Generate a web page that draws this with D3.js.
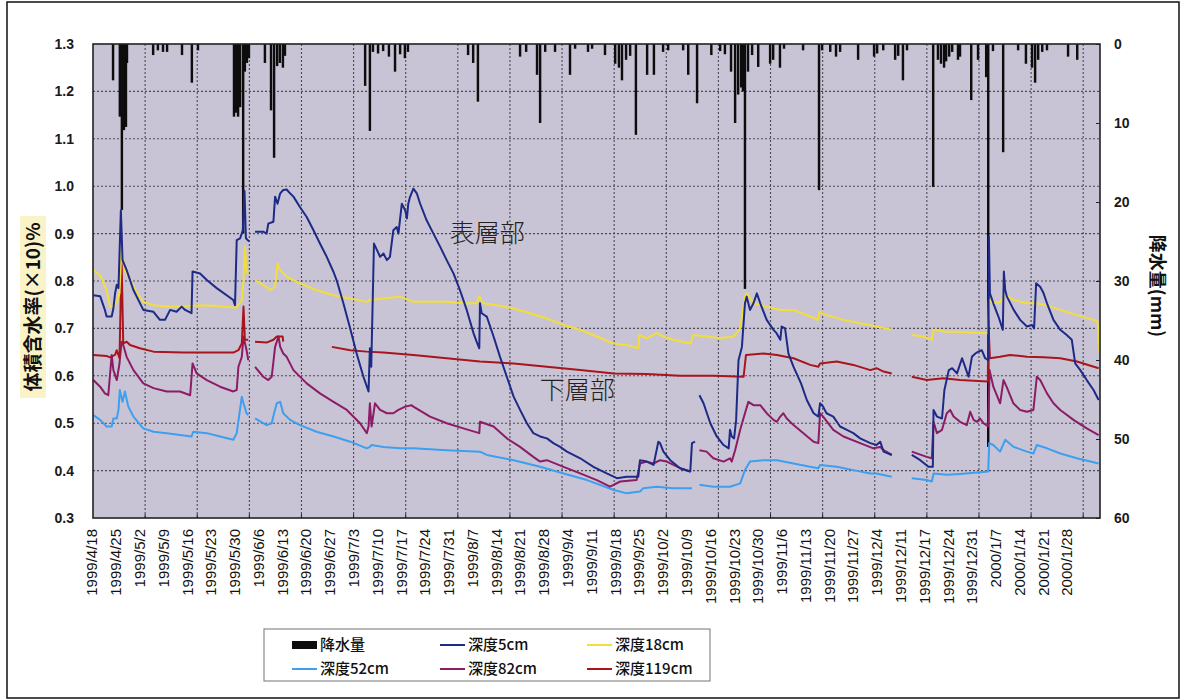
<!DOCTYPE html>
<html lang="ja">
<head>
<meta charset="utf-8">
<title>体積含水率と降水量</title>
<script src="https://cdn.jsdelivr.net/npm/d3@7"></script>
<style>
  html, body { margin: 0; padding: 0; background: #fff; }
  svg { display: block; }
  .tick-num { font-family: "Liberation Sans", Arial, sans-serif; font-weight: bold; font-size: 14px; fill: #1a1a1a; }
  .date-lbl { font-family: "Liberation Sans", Arial, sans-serif; font-size: 15px; fill: #111; }
  .cjk { font-family: "Noto Sans CJK JP", "Noto Sans", sans-serif; }
</style>
</head>
<body>
<svg id="chart" width="1183" height="700"></svg>
<script>
// ---- data -------------------------------------------------------------
// x values are days counted from 1999/4/18 (one label every 7 positions)
const dateLabels = [
  "1999/4/18","1999/4/25","1999/5/2","1999/5/9","1999/5/16","1999/5/23","1999/5/30",
  "1999/6/6","1999/6/13","1999/6/20","1999/6/27","1999/7/3","1999/7/10","1999/7/17",
  "1999/7/24","1999/7/31","1999/8/7","1999/8/14","1999/8/21","1999/8/28","1999/9/4",
  "1999/9/11","1999/9/18","1999/9/25","1999/10/2","1999/10/9","1999/10/16","1999/10/23",
  "1999/10/30","1999/11/6","1999/11/13","1999/11/20","1999/11/27","1999/12/4","1999/12/11",
  "1999/12/17","1999/12/24","1999/12/31","2000/1/7","2000/1/14","2000/1/21","2000/1/28"
];
const leftTicks = [0.3, 0.4, 0.5, 0.6, 0.7, 0.8, 0.9, 1.0, 1.1, 1.2, 1.3];
const rightTicks = [0, 10, 20, 30, 40, 50, 60];

// precipitation [day, mm]
const rainfall = [
  [5.9,4.6],[7.9,9.2],[8.5,21],[9.1,10.9],[9.7,10.5],[10.0,2.4],
  [17.7,1.4],[19.1,0.8],[20.6,1.0],[21.8,1.0],[26.2,1.4],[29.1,4.9],[30.9,0.8],
  [41.5,9.2],[42.1,8.7],[42.7,9.2],[43.3,8.0],[44.2,24],[44.7,3.5],[45.3,2.4],[45.9,1.8],
  [50.6,2.4],[52.4,8.4],[53.3,14.4],[54.2,2.8],[55.0,2.4],[55.9,3.0],[56.5,1.5],
  [80.1,5.3],[81.5,11.0],[82.4,1.0],[83.9,1.2],[85.4,0.9],[87.1,1.6],[88.9,3.5],[90.4,1.3],[91.8,1.8],[92.7,1.0],
  [110.4,1.4],[111.9,2.4],[113.3,7.3],
  [125.7,1.6],[127.5,1.0],[130.7,3.9],[131.6,10.0],[133.1,1.0],[136.0,1.0],[140.4,3.9],[141.9,0.6],
  [145.7,1.0],[146.9,0.6],[150.7,1.4],[153.7,2.5],[154.8,3.0],[155.7,4.6],[156.9,2.0],[158.1,1.5],
  [159.8,11.5],[163.1,3.9],[165.1,3.9],[167.8,1.0],[169.3,0.8],[173.7,0.8],[175.2,3.9],[177.8,7.5],
  [182.0,1.4],[184.6,0.9],[186.0,1.3],[187.8,3.5],[189.0,10.0],[189.9,6.4],[190.8,5.5],[191.3,6.0],
  [191.9,31],[192.8,3.5],[194.0,1.4],[195.8,2.9],[199.3,2.5],[200.2,2.0],[202.2,3.0],[203.4,0.6],
  [209.0,0.8],[213.7,18.5],[214.6,0.8],[217.0,1.0],[218.7,1.6],[219.9,1.0],[225.2,2.0],
  [229.9,1.6],[230.8,1.2],[232.6,0.8],[236.1,2.0],[237.0,1.5],[238.4,4.6],[239.6,0.8],
  [247.3,18.1],[248.7,2.0],[249.6,2.5],[250.5,3.0],[251.1,2.2],[252.0,1.6],[252.9,1.0],
  [254.6,2.0],[255.2,1.6],[258.5,7.1],[260.5,2.0],[262.9,4.2],[263.5,51],[264.9,0.9],
  [267.9,13.7],[272.3,0.8],[274.6,2.5],[276.4,3.0],[277.3,4.9],[278.2,2.0],[279.4,1.0],
  [280.8,0.8],[287.0,1.6],[289.7,2.0]
];

// volumetric water content (x10 %) [day, value]; null marks a gap in the record
const depth5 = [
  [0.1,0.770],[2.1,0.768],[3.5,0.739],[4.0,0.725],[5.5,0.725],[6.0,0.742],[6.5,0.774],[7.0,0.792],
  [7.5,0.785],[8.2,0.949],[8.7,0.844],[9.9,0.823],[11.9,0.781],[14.8,0.739],[17.8,0.735],[19.7,0.718],
  [21.2,0.718],[22.7,0.739],[24.6,0.735],[26.1,0.746],[27.1,0.739],[29.0,0.732],[29.3,0.820],[31.5,0.816],
  [33.5,0.802],[36.4,0.785],[41.3,0.760],[41.8,0.749],[42.3,0.886],[43.3,0.890],[44.1,0.907],[44.6,0.990],
  [45.0,0.890],[46.0,0.883],
  null,
  [47.7,0.904],[50.1,0.904],[51.1,0.900],[51.6,0.921],[53.1,0.925],[53.6,0.978],[54.3,0.963],[55.1,0.985],
  [56.0,0.992],[57.0,0.993],[58.0,0.985],[59.0,0.978],[60.9,0.956],[62.9,0.935],[64.9,0.907],[66.8,0.879],
  [68.8,0.851],[70.8,0.819],[71.7,0.802],[73.7,0.753],[75.7,0.700],[77.6,0.647],[79.6,0.598],[81.1,0.567],
  [81.5,0.658],[81.9,0.619],[82.7,0.879],[83.6,0.865],[84.5,0.851],[85.5,0.858],[86.5,0.844],[87.4,0.851],
  [88.4,0.907],[89.4,0.914],[89.9,0.900],[90.9,0.963],[91.9,0.949],[92.4,0.932],[92.8,0.963],[93.3,0.977],
  [94.3,0.995],[95.3,0.985],[96.3,0.963],[98.2,0.928],[100.2,0.900],[102.2,0.872],[104.1,0.844],[106.1,0.816],
  [108.0,0.781],[110.0,0.739],[112.0,0.690],[112.9,0.672],[113.7,0.658],[113.9,0.753],[114.4,0.732],[115.9,0.725],
  [117.9,0.683],[119.8,0.640],[121.8,0.598],[123.8,0.556],[125.7,0.528],[127.7,0.500],[129.6,0.479],[131.6,0.472],
  [133.6,0.468],[135.5,0.458],[137.5,0.450],[139.5,0.440],[143.4,0.426],[147.3,0.408],[151.2,0.394],[154.2,0.384],
  [157.1,0.387],[160.5,0.387],[161.0,0.422],[163.0,0.419],[165.0,0.412],[166.4,0.461],[166.9,0.458],[167.9,0.440],
  [169.9,0.422],[172.8,0.405],[175.8,0.398],[176.3,0.458],[177.2,0.461],
  null,
  [178.5,0.559],[179.7,0.542],[181.7,0.500],[183.6,0.472],[185.6,0.454],[187.1,0.447],[187.5,0.486],[188.0,0.472],
  [188.7,0.468],[189.3,0.507],[190.0,0.633],[191.0,0.661],[191.9,0.753],[192.4,0.767],[193.4,0.739],[194.4,0.753],
  [195.4,0.774],[196.4,0.753],[198.3,0.718],[200.3,0.697],[201.2,0.690],[202.3,0.676],[202.7,0.704],[203.7,0.700],
  [204.7,0.647],[206.2,0.619],[208.4,0.584],[210.1,0.549],[212.1,0.521],[213.5,0.514],[214.0,0.542],[214.9,0.535],
  [215.9,0.521],[217.9,0.514],[219.9,0.493],[221.9,0.486],[223.8,0.479],[225.8,0.468],[228.8,0.458],[230.6,0.454],
  [231.7,0.461],[232.7,0.440],[235.1,0.433],
  null,
  [241.0,0.433],[243.5,0.422],[245.9,0.408],[247.2,0.408],[247.4,0.528],[248.4,0.514],[249.9,0.510],[250.6,0.570],
  [251.9,0.612],[252.9,0.616],[254.3,0.605],[255.8,0.637],[256.7,0.619],[257.7,0.598],[258.7,0.640],[259.7,0.647],
  [260.6,0.651],[261.6,0.654],[262.6,0.637],[263.5,0.633],[263.7,0.893],[264.0,0.774],[265.0,0.753],[266.5,0.725],
  [267.8,0.697],[268.1,0.820],[268.5,0.781],[269.0,0.767],[271.0,0.739],[272.9,0.718],[274.9,0.704],[276.4,0.707],
  [277.0,0.700],[277.6,0.795],[278.8,0.788],[279.8,0.774],[280.8,0.753],[282.7,0.718],[284.7,0.697],[286.6,0.686],
  [288.1,0.676],[289.1,0.626],[290.6,0.612],[292.5,0.591],[294.5,0.570],[296.0,0.549]
];

const depth18 = [
  [0.1,0.823],[2.1,0.812],[4.0,0.781],[5.0,0.746],[6.0,0.744],[7.0,0.756],[7.8,0.774],[8.4,0.872],
  [9.0,0.837],[9.4,0.823],[10.9,0.802],[12.9,0.774],[14.8,0.756],[17.8,0.749],[21.7,0.746],[26.6,0.746],
  [31.5,0.749],[36.4,0.747],[41.3,0.744],[42.3,0.744],[43.8,0.760],[44.3,0.802],[44.7,0.872],[45.2,0.820],
  [45.7,0.816],
  null,
  [47.7,0.802],[50.1,0.792],[52.1,0.781],[53.6,0.788],[54.3,0.837],[55.1,0.823],[57.0,0.809],[60.9,0.795],
  [65.8,0.781],[70.8,0.770],[75.7,0.763],[80.6,0.756],[81.5,0.760],[85.5,0.763],[90.4,0.767],[94.3,0.756],
  [99.2,0.756],[104.1,0.756],[109.0,0.753],[112.9,0.753],[113.7,0.767],[114.9,0.753],[118.8,0.749],[123.8,0.742],
  [128.7,0.732],[133.6,0.721],[138.5,0.707],[143.4,0.697],[148.3,0.683],[153.3,0.668],[157.1,0.665],[160.5,0.658],
  [160.8,0.686],[163.0,0.679],[165.9,0.690],[167.9,0.683],[170.8,0.676],[175.8,0.668],[176.7,0.686],[180.6,0.683],
  [184.6,0.679],[188.5,0.683],[190.5,0.700],[191.9,0.767],[192.4,0.774],[194.4,0.753],[198.3,0.746],[202.3,0.739],
  [206.2,0.739],[211.1,0.725],[213.5,0.718],[213.8,0.735],[216.0,0.728],[220.9,0.718],[225.8,0.711],[230.6,0.704],
  [235.1,0.697],
  null,
  [241.0,0.686],[244.5,0.683],[246.9,0.676],[247.4,0.697],[251.3,0.693],[255.2,0.693],[259.2,0.691],[263.4,0.690],
  [263.7,0.760],[265.0,0.753],[267.0,0.756],[268.5,0.770],[271.0,0.760],[274.9,0.753],[277.9,0.753],[281.8,0.746],
  [284.7,0.739],[289.6,0.728],[294.5,0.718],[295.7,0.714],[296.3,0.647]
];

const depth52 = [
  [0.1,0.517],[2.1,0.507],[4.0,0.493],[5.5,0.493],[6.0,0.510],[7.0,0.510],[7.5,0.528],[7.9,0.570],
  [8.7,0.545],[9.4,0.567],[10.4,0.535],[11.9,0.514],[14.8,0.489],[17.8,0.482],[21.7,0.479],[25.6,0.475],
  [29.0,0.472],[29.5,0.482],[33.5,0.479],[37.4,0.472],[41.3,0.465],[42.3,0.479],[43.8,0.556],[44.3,0.542],
  [45.2,0.521],[45.7,0.517],
  null,
  [47.7,0.510],[51.1,0.496],[52.6,0.500],[53.3,0.521],[54.1,0.542],[55.1,0.545],[56.0,0.521],[58.0,0.507],
  [60.9,0.496],[65.8,0.482],[70.8,0.472],[75.7,0.461],[80.6,0.447],[81.5,0.450],[82.0,0.454],[85.5,0.450],
  [90.4,0.447],[94.3,0.447],[104.1,0.443],[113.9,0.440],[115.9,0.433],[123.8,0.422],[131.6,0.408],[138.5,0.394],
  [145.4,0.380],[153.3,0.359],[157.1,0.352],[161.0,0.356],[162.0,0.363],[165.9,0.366],[170.8,0.363],[176.3,0.363],
  null,
  [178.5,0.370],[182.6,0.366],[187.5,0.366],[190.5,0.373],[191.9,0.401],[193.4,0.419],[197.4,0.422],[201.3,0.422],
  [206.2,0.415],[211.1,0.408],[213.5,0.405],[214.0,0.412],[218.9,0.408],[223.8,0.401],[228.8,0.394],[230.6,0.394],
  [235.1,0.387],
  null,
  [241.0,0.384],[245.4,0.380],[246.9,0.377],[247.4,0.394],[251.3,0.391],[255.2,0.393],[260.2,0.396],[263.5,0.398],
  [263.8,0.458],[265.0,0.454],[267.0,0.440],[268.5,0.465],[271.0,0.450],[274.9,0.440],[276.8,0.436],[277.8,0.454],
  [280.8,0.447],[284.7,0.436],[289.6,0.426],[296.0,0.415]
];

const depth82 = [
  [0.1,0.591],[2.1,0.577],[3.5,0.563],[4.5,0.559],[5.5,0.644],[6.0,0.612],[7.0,0.591],[7.8,0.626],
  [8.4,0.672],[8.9,0.665],[9.9,0.640],[11.9,0.612],[14.8,0.584],[17.8,0.574],[21.7,0.567],[25.6,0.567],
  [28.6,0.559],[29.3,0.626],[30.5,0.605],[33.5,0.591],[37.4,0.577],[41.3,0.567],[42.3,0.570],[42.8,0.619],
  [43.8,0.640],[44.3,0.683],[45.2,0.654],[45.7,0.633],
  null,
  [47.7,0.619],[50.1,0.598],[51.6,0.591],[52.6,0.598],[53.6,0.661],[54.6,0.683],[55.1,0.661],[56.0,0.647],
  [57.0,0.640],[59.0,0.612],[62.9,0.584],[66.8,0.563],[70.8,0.545],[74.7,0.528],[78.6,0.500],[80.6,0.479],
  [81.1,0.493],[81.5,0.542],[82.0,0.493],[83.0,0.542],[84.5,0.528],[86.5,0.521],[88.4,0.521],[89.9,0.528],
  [91.9,0.535],[93.8,0.538],[94.3,0.535],[99.2,0.514],[104.1,0.500],[109.0,0.489],[113.7,0.479],[113.9,0.503],
  [117.9,0.493],[121.8,0.468],[125.7,0.450],[129.6,0.429],[131.6,0.419],[133.6,0.422],[138.5,0.408],[143.4,0.394],
  [148.3,0.380],[152.2,0.366],[155.2,0.377],[160.0,0.380],[161.0,0.415],[163.0,0.419],[165.0,0.415],[166.9,0.422],
  [168.9,0.419],[172.8,0.405],[175.8,0.398],
  null,
  [178.5,0.443],[180.6,0.440],[182.6,0.426],[185.6,0.419],[187.5,0.426],[188.0,0.419],[189.0,0.443],[190.5,0.486],
  [191.9,0.521],[192.9,0.545],[194.4,0.538],[196.4,0.538],[198.3,0.521],[200.3,0.507],[201.3,0.503],[202.3,0.514],
  [203.2,0.521],[204.2,0.510],[206.2,0.496],[209.1,0.479],[212.1,0.461],[213.5,0.458],[214.0,0.521],[214.9,0.514],
  [217.9,0.486],[220.9,0.472],[225.8,0.458],[229.7,0.447],[231.7,0.450],[232.7,0.443],[235.1,0.433],
  null,
  [241.0,0.440],[245.4,0.429],[246.9,0.426],[247.4,0.503],[248.4,0.479],[249.9,0.486],[251.3,0.521],[252.3,0.528],
  [253.3,0.514],[255.2,0.503],[257.2,0.496],[258.2,0.524],[259.2,0.507],[260.2,0.503],[261.1,0.510],[262.1,0.500],
  [263.5,0.493],[263.9,0.612],[265.0,0.577],[267.0,0.542],[268.0,0.591],[268.9,0.577],[270.9,0.542],[272.9,0.528],
  [274.9,0.524],[276.8,0.528],[277.8,0.598],[278.8,0.591],[280.8,0.563],[282.7,0.542],[284.7,0.528],[288.6,0.507],
  [292.5,0.489],[296.0,0.475]
];

const depth119 = [
  [0.1,0.644],[4.0,0.642],[5.0,0.639],[6.5,0.644],[7.0,0.654],[7.8,0.637],[8.4,0.850],[8.9,0.668],
  [9.9,0.672],[10.9,0.665],[13.8,0.658],[17.8,0.651],[26.6,0.649],[41.3,0.649],[42.8,0.654],[43.8,0.668],
  [44.3,0.746],[44.7,0.676],[45.7,0.676],
  null,
  [47.7,0.672],[51.1,0.670],[53.1,0.676],[54.1,0.683],[55.8,0.683],[56.0,0.672],
  null,
  [70.3,0.661],[75.7,0.654],[80.6,0.651],[85.5,0.649],[94.3,0.644],[104.1,0.637],[113.9,0.630],[123.8,0.626],
  [133.6,0.619],[143.4,0.612],[153.3,0.605],[163.0,0.604],[172.8,0.600],[182.6,0.600],[191.5,0.598],[192.2,0.644],
  [197.4,0.647],[201.3,0.644],[206.2,0.637],[211.1,0.623],[213.5,0.619],[214.0,0.626],[218.9,0.630],[223.8,0.623],
  [228.8,0.612],[230.6,0.616],[232.7,0.609],[235.1,0.605],
  null,
  [241.0,0.598],[245.4,0.591],[250.3,0.595],[255.2,0.591],[263.4,0.588],[263.5,0.721],[264.0,0.637],[267.0,0.640],
  [269.9,0.644],[274.9,0.640],[279.8,0.639],[284.7,0.637],[289.6,0.630],[296.0,0.616]
];

const seriesList = [
  { name: "深度52cm",  values: depth52,  color: "#3d9ff0" },
  { name: "深度82cm",  values: depth82,  color: "#8c1c66" },
  { name: "深度119cm", values: depth119, color: "#a8151c" },
  { name: "深度18cm",  values: depth18,  color: "#f2de3a" },
  { name: "深度5cm",   values: depth5,   color: "#1d2a86" }
];

// ---- layout -----------------------------------------------------------
const plot = { left: 93, top: 44, right: 1100, bottom: 518 };
const dayMax = 296.4;        // right end of the date axis
const gridStepDays = 15.34;  // spacing of the vertical guide lines

const svg = d3.select("#chart");

const x = d3.scaleLinear().domain([0, dayMax]).range([plot.left, plot.right]);
const yL = d3.scaleLinear().domain([0.3, 1.3]).range([plot.bottom, plot.top]);
const yR = d3.scaleLinear().domain([0, 60]).range([plot.top, plot.bottom]);

// outer frame
svg.append("rect")
  .attr("x", 7).attr("y", 2).attr("width", 1172).attr("height", 696)
  .attr("fill", "#fff").attr("stroke", "#111").attr("stroke-width", 1.5);

// plot background
svg.append("rect")
  .attr("x", plot.left).attr("y", plot.top)
  .attr("width", plot.right - plot.left).attr("height", plot.bottom - plot.top)
  .attr("fill", "#c9c4d5");

// dotted guide lines
const grid = svg.append("g").attr("stroke", "#4a4a55").attr("stroke-width", 1.1)
  .attr("stroke-dasharray", "2,2");
grid.selectAll("line.h").data(leftTicks.slice(1, -1)).join("line")
  .attr("x1", plot.left).attr("x2", plot.right)
  .attr("y1", d => yL(d)).attr("y2", d => yL(d));
grid.selectAll("line.v").data(d3.range(1, Math.floor(dayMax / gridStepDays) + 1).map(k => k * gridStepDays)).join("line")
  .attr("y1", plot.top).attr("y2", plot.bottom)
  .attr("x1", d => x(d)).attr("x2", d => x(d));

// precipitation bars hanging from the top edge
const barW = (x(1) - x(0)) * 0.72;
svg.append("g").selectAll("rect").data(rainfall).join("rect")
  .attr("x", d => x(d[0]) - barW / 2)
  .attr("y", yR(0))
  .attr("width", barW)
  .attr("height", d => yR(d[1]) - yR(0))
  .attr("fill", "#0d0d0d");

// water-content lines
const line = d3.line()
  .defined(d => d !== null)
  .x(d => x(d[0]))
  .y(d => yL(d[1]));
svg.append("g").selectAll("path").data(seriesList).join("path")
  .attr("d", s => line(s.values))
  .attr("fill", "none")
  .attr("stroke", s => s.color)
  .attr("stroke-width", 2)
  .attr("stroke-linejoin", "round");

// plot border
svg.append("rect")
  .attr("x", plot.left).attr("y", plot.top)
  .attr("width", plot.right - plot.left).attr("height", plot.bottom - plot.top)
  .attr("fill", "none").attr("stroke", "#222").attr("stroke-width", 1.6);

// left axis
const axisL = d3.axisLeft(yL).tickValues(leftTicks).tickFormat(d3.format(".1f")).tickSize(0).tickPadding(19);
const gL = svg.append("g").attr("transform", `translate(${plot.left},0)`).call(axisL);
gL.select(".domain").remove();
gL.selectAll("text").attr("class", "tick-num");

// right axis
const axisR = d3.axisRight(yR).tickValues(rightTicks).tickSize(-4).tickPadding(14);
const gR = svg.append("g").attr("transform", `translate(${plot.right},0)`).call(axisR);
gR.select(".domain").remove();
gR.selectAll("line").attr("stroke", "#222");
gR.selectAll("text").attr("class", "tick-num");

// date axis (labels every 7 days, small inner ticks at guide lines)
const gB = svg.append("g");
gB.selectAll("line").data(d3.range(1, Math.floor(dayMax / gridStepDays) + 1).map(k => k * gridStepDays)).join("line")
  .attr("x1", d => x(d)).attr("x2", d => x(d))
  .attr("y1", plot.bottom).attr("y2", plot.bottom - 4)
  .attr("stroke", "#222");
gB.selectAll("text").data(dateLabels).join("text")
  .attr("class", "date-lbl")
  .attr("transform", (d, i) => `translate(${x(i * 7) - 1},${plot.bottom + 11}) rotate(-90)`)
  .attr("text-anchor", "end")
  .attr("dy", "0.36em")
  .text(d => d);

// axis titles
svg.append("rect").attr("x", 20).attr("y", 216).attr("width", 26).attr("height", 182)
  .attr("fill", "#faf3c8");
svg.append("text")
  .attr("class", "cjk")
  .attr("transform", "translate(33,307) rotate(-90)")
  .attr("text-anchor", "middle").attr("dy", "0.35em")
  .attr("font-size", 19).attr("font-weight", "bold").attr("fill", "#111")
  .text("体積含水率(×10)%");
svg.append("text")
  .attr("class", "cjk")
  .attr("transform", "translate(1157,286) rotate(90)")
  .attr("text-anchor", "middle").attr("dy", "0.35em")
  .attr("font-size", 18).attr("font-weight", "bold").attr("fill", "#111")
  .text("降水量(mm)");

// layer annotations
svg.append("text").attr("class", "cjk")
  .attr("x", x(105)).attr("y", yL(0.9)).attr("dy", "0.35em")
  .attr("font-size", 25).attr("font-weight", 300).attr("fill", "#222").text("表層部");
svg.append("text").attr("class", "cjk")
  .attr("x", x(131.5)).attr("y", yL(0.57)).attr("dy", "0.35em")
  .attr("font-size", 25).attr("font-weight", 300).attr("fill", "#222").text("下層部");

// legend
const legendItems = [
  { label: "降水量",    color: "#0d0d0d", bar: true },
  { label: "深度5cm",   color: "#1d2a86" },
  { label: "深度18cm",  color: "#f2de3a" },
  { label: "深度52cm",  color: "#3d9ff0" },
  { label: "深度82cm",  color: "#8c1c66" },
  { label: "深度119cm", color: "#a8151c" }
];
const lg = svg.append("g").attr("transform", "translate(264,629)");
lg.append("rect").attr("width", 446).attr("height", 52)
  .attr("fill", "#fff").attr("stroke", "#8a8a8a").attr("stroke-width", 1.2);
const colX = [28, 176, 323];
const rowY = [16, 40];
const li = lg.selectAll("g.item").data(legendItems).join("g")
  .attr("transform", (d, i) => `translate(${colX[i % 3]},${rowY[Math.floor(i / 3)]})`);
li.each(function(d) {
  const g = d3.select(this);
  if (d.bar) {
    g.append("rect").attr("x", 0).attr("y", -4).attr("width", 25).attr("height", 8).attr("fill", d.color);
  } else {
    g.append("line").attr("x1", 0).attr("x2", 25).attr("y1", 0).attr("y2", 0)
      .attr("stroke", d.color).attr("stroke-width", 2);
  }
  g.append("text").attr("class", "cjk").attr("x", 28).attr("dy", "0.36em")
    .attr("font-size", 15).attr("font-weight", 500).attr("fill", "#111").text(d.label);
});
</script>
</body>
</html>
